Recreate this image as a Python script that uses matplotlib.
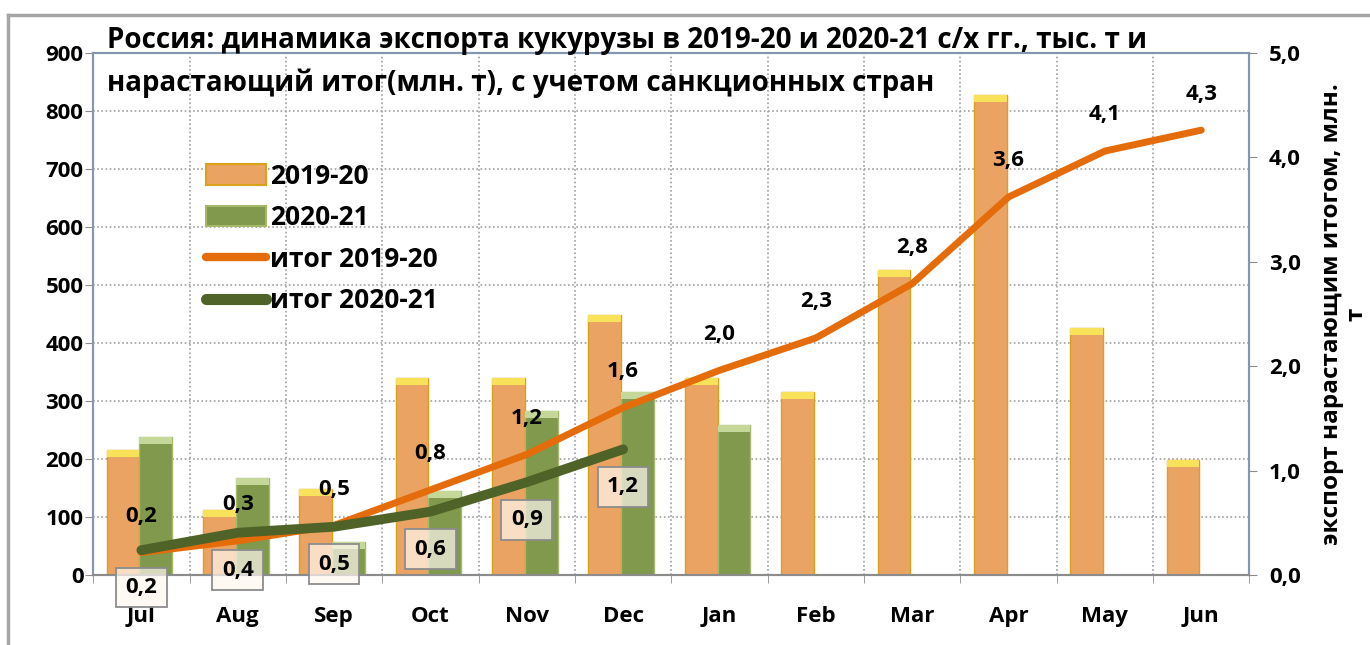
import numpy as np
import matplotlib.pyplot as plt
from matplotlib.lines import Line2D
from matplotlib.patches import Patch
from matplotlib.ticker import FuncFormatter, MultipleLocator

plt.rcParams['font.family'] = ['Open Sans', 'DejaVu Sans']

# данные
months = ['Jul', 'Aug', 'Sep', 'Oct', 'Nov', 'Dec', 'Jan', 'Feb', 'Mar', 'Apr', 'May', 'Jun']
exp_2019 = [215, 112, 148, 340, 340, 448, 340, 316, 526, 828, 426, 198]
exp_2020 = [238, 167, 57, 145, 282, 315, 258]
cum_2019 = [0.215, 0.327, 0.475, 0.815, 1.155, 1.603, 1.96, 2.27, 2.79, 3.62, 4.06, 4.26]
cum_2020 = [0.238, 0.405, 0.462, 0.607, 0.889, 1.204]

title = ('Россия: динамика экспорта кукурузы в 2019-20 и 2020-21 с/х гг., тыс. т и\n'
         'нарастающий итог(млн. т), с учетом санкционных стран')

c_or = '#EBA363'
c_or_edge = '#D9A21B'
c_gr = '#80994C'
c_gr_edge = '#A7B86A'
c_line_or = '#E46C0A'
c_line_gr = '#4F6228'

fig = plt.figure(figsize=(13.7, 6.45), dpi=100)
ax = fig.add_axes([0.068, 0.1085, 0.844, 0.8095])
ax2 = ax.twinx()

x = np.arange(len(months))
x2 = np.arange(len(exp_2020))
x3 = np.arange(len(cum_2020))
w = 0.34
cap = 12

ax.bar(x - w / 2 - 0.02, exp_2019, w, color=c_or, edgecolor=c_or_edge, lw=1, zorder=2)
ax.bar(x - w / 2 - 0.02, cap, w, bottom=np.array(exp_2019) - cap, color='#F7E25A', lw=0, zorder=3)
ax.bar(x2 + w / 2 - 0.02, exp_2020, w, color=c_gr, edgecolor=c_gr_edge, lw=1, zorder=2)
ax.bar(x2 + w / 2 - 0.02, cap, w, bottom=np.array(exp_2020) - cap, color='#C6D79A', lw=0, zorder=3)

ax.set_xlim(-0.5, 11.5)
ax.set_ylim(0, 900)
ax.yaxis.set_major_locator(MultipleLocator(100))
ax.set_xticks(x)
ax.set_xticklabels(months)
ax.set_xticks(np.arange(-0.5, 12, 1), minor=True)
ax.tick_params(axis='x', which='major', length=0, pad=22, labelsize=16)
ax.tick_params(axis='x', which='minor', length=6, color='#8C8C8C')
ax.tick_params(axis='y', length=6, color='#8C8C8C', labelsize=16, pad=1)
for t in ax.get_xticklabels() + ax.get_yticklabels():
    t.set_fontweight('bold')
ax.grid(axis='y', which='major', ls=(0, (1, 1.5)), color='#A0A0A0', lw=1.2)
ax.grid(axis='x', which='minor', ls=(0, (1, 1.5)), color='#A0A0A0', lw=1.2)
ax.set_axisbelow(True)

ax2.set_ylim(0, 5)
ax2.yaxis.set_major_locator(MultipleLocator(1))
ax2.yaxis.set_major_formatter(FuncFormatter(lambda v, p: f'{v:.1f}'.replace('.', ',')))
ax2.tick_params(axis='y', length=6, color='#8C8C8C', labelsize=16, pad=8)
for t in ax2.get_yticklabels():
    t.set_fontweight('bold')
ax2.set_ylabel('экспорт нарастающим итогом, млн.\nт', fontsize=17.5, fontweight='bold',
               labelpad=14, multialignment='center', linespacing=1.0)

for a in (ax, ax2):
    for s in a.spines.values():
        s.set_color('#8497B0')
        s.set_linewidth(1.5)
ax2.spines['bottom'].set_color('#8C8C8C')

ax2.plot(x, cum_2019, color=c_line_or, lw=5, solid_capstyle='round',
         solid_joinstyle='round', zorder=4)
ax2.plot(x3, cum_2020, color=c_line_gr, lw=7, solid_capstyle='round',
         solid_joinstyle='round', zorder=5)

for xi, v in zip(x, cum_2019):
    ax2.annotate(f'{v:.1f}'.replace('.', ','), (xi, v), xytext=(0, 26),
                 textcoords='offset points', ha='center', va='center',
                 fontsize=16, fontweight='bold', zorder=6)
for xi, v in zip(x3, cum_2020):
    ax2.annotate(f'{v:.1f}'.replace('.', ','), (xi, v), xytext=(0, -27),
                 textcoords='offset points', ha='center', va='center',
                 fontsize=16, fontweight='bold', zorder=6,
                 bbox=dict(boxstyle='square,pad=0.42', fc=(1, 0.97, 0.94, 0.7),
                           ec='#8C8C8C', lw=1.3))

handles = [Patch(fc=c_or, ec=c_or_edge, lw=1.5),
           Patch(fc=c_gr, ec=c_gr_edge, lw=1.5),
           Line2D([], [], color=c_line_or, lw=6, solid_capstyle='round'),
           Line2D([], [], color=c_line_gr, lw=8, solid_capstyle='round')]
labels = ['2019-20', '2020-21', 'итог 2019-20', 'итог 2020-21']
leg = ax.legend(handles, labels, loc='upper left', bbox_to_anchor=(0.086, 0.815),
                frameon=False, handlelength=2.3, handleheight=0.8, handletextpad=0.15,
                labelspacing=0.55, borderpad=0, prop={'size': 19, 'weight': 'bold'})

fig.text(107 / 1370, 1 - 26 / 645, title, ha='left', va='top', fontsize=20,
         fontweight='bold', linespacing=1.6)

fig.add_artist(Line2D([8 / 1370, 8 / 1370], [0, 1 - 15 / 645], color='#A6A6A6', lw=2.5))
fig.add_artist(Line2D([8 / 1370, 1], [1 - 15 / 645, 1 - 15 / 645], color='#A6A6A6', lw=2.5))

fig.savefig('out.png', dpi=100)
